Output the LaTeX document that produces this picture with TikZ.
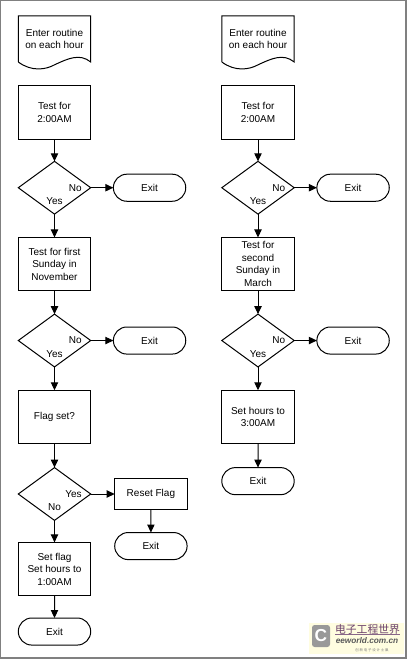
\documentclass[tikz,border=0pt]{standalone}
\usepackage{fontspec}
\setmainfont{Liberation Sans}
\newfontfamily\cjk{Noto Sans CJK SC}
\usepackage{tikz}
\usetikzlibrary{arrows.meta,positioning,shapes.geometric,shapes.misc}

\begin{document}
\begin{tikzpicture}[
  x=0.75pt, y=0.75pt,
  font=\fontsize{7.5pt}{9.4pt}\selectfont,
  line width=0.75pt,
  outer sep=0pt,
  stepbox/.style={draw, align=center, minimum width=54.3pt, minimum height=40pt, inner sep=0pt},
  docbox/.style={align=center, minimum width=54.3pt, minimum height=34.5pt, inner sep=0pt},
  decision/.style={draw, diamond, aspect=1.4, minimum width=54.3pt, minimum height=39.6pt, inner sep=0pt},
  exitbox/.style={draw, rounded rectangle, minimum width=54.3pt, minimum height=20.3pt, inner sep=0pt},
  answer/.style={inner sep=0pt},
  arrow/.style={-{Triangle[length=6pt,width=5.5pt]}},
  node distance=17.5pt
]
\useasboundingbox (0,0) rectangle (407,-659);
\draw[draw=gray, line width=1.2pt] (0.5,-0.5) rectangle (406,-658);

% left column
\node[docbox] (docL) at (54.5,-39) {Enter routine\\on each hour};
\node[stepbox,below=18pt of docL] (testL) {Test for\\2:00AM};
\node[decision,below=16.5pt of testL] (decL) {};
\node[exitbox,right=17pt of decL] (exitL) {Exit};
\node[stepbox,below=of decL] (firstL) {Test for first\\Sunday in\\November};
\node[decision,below=of firstL] (dectwoL) {};
\node[exitbox,right=17pt of dectwoL] (exittwoL) {Exit};
\node[stepbox,below=of dectwoL] (flagL) {Flag set?};
\node[decision,below=18pt of flagL] (decthreeL) {};
\node[stepbox,right=18pt of decthreeL,minimum height=22.8pt] (resetL) {Reset Flag};
\node[exitbox,below=17.5pt of resetL] (exitthreeL) {Exit};
\node[stepbox,below=16.5pt of decthreeL] (setL) {Set flag\\Set hours to\\1:00AM};
\node[exitbox,below=16.7pt of setL] (exitfourL) {Exit};

% right column
\node[docbox] (docR) at (258,-39) {Enter routine\\on each hour};
\node[stepbox,below=18pt of docR] (testR) {Test for\\2:00AM};
\node[decision,below=16.5pt of testR] (decR) {};
\node[exitbox,right=17pt of decR] (exitR) {Exit};
\node[stepbox,below=of decR] (secondR) {Test for\\second\\Sunday in\\March};
\node[decision,below=of secondR] (dectwoR) {};
\node[exitbox,right=17pt of dectwoR] (exittwoR) {Exit};
\node[stepbox,below=of dectwoR] (setR) {Set hours to\\3:00AM};
\node[exitbox,below=18pt of setR] (exitthreeR) {Exit};

% decision labels
\foreach \d in {decL,dectwoL,decR,dectwoR} {
  \node[answer,left=6.75pt of \d.east] (\d no) {No};
  \node[answer,above=7pt of \d.south] (\d yes) {Yes};
}
\node[answer,left=6.75pt of decthreeL.east] (decthreeLyes) {Yes};
\node[answer,above=7pt of decthreeL.south] (decthreeLno) {No};

% wavy bottoms of the document shapes
\foreach \d in {docL,docR} {
  \draw (\d.south west) -- (\d.north west) -- (\d.north east) -- (\d.south east)
    .. controls +(-11,9) and +(13,6) .. ([xshift=27.4pt,yshift=-2pt]\d.south west)
    .. controls +(-9,-5) and +(13.5,-10) .. (\d.south west);
}

\draw[arrow] (testL) -- (decL);
\draw[arrow] (decL) -- (exitL);
\draw[arrow] (decL) -- (firstL);
\draw[arrow] (firstL) -- (dectwoL);
\draw[arrow] (dectwoL) -- (exittwoL);
\draw[arrow] (dectwoL) -- (flagL);
\draw[arrow] (flagL) -- (decthreeL);
\draw[arrow] (decthreeL) -- (resetL);
\draw[arrow] (resetL) -- (exitthreeL);
\draw[arrow] (decthreeL) -- (setL);
\draw[arrow] (setL) -- (exitfourL);

\draw[arrow] (testR) -- (decR);
\draw[arrow] (decR) -- (exitR);
\draw[arrow] (decR) -- (secondR);
\draw[arrow] (secondR) -- (dectwoR);
\draw[arrow] (dectwoR) -- (exittwoR);
\draw[arrow] (dectwoR) -- (setR);
\draw[arrow] (setR) -- (exitthreeR);

% watermark
\fill[yellow!12] (309,-622.5) rectangle (404,-654);
\fill[gray!80, rounded corners=2pt] (312,-625) rectangle (330,-647);
\node[text=white, font=\fontsize{13pt}{13pt}\selectfont\bfseries] (markC) at (321,-636) {C};
\node[text=violet!45!black!75, inner sep=0pt, font=\cjk\fontsize{8.1pt}{9pt}\selectfont] (markcn) at (367.5,-629.5) {电子工程世界};
\draw[violet!45!black!60, line width=0.5pt] (markcn.south west) -- (markcn.south east);
\node[text=gray!70!black, inner sep=0pt, font=\fontsize{6.2pt}{7pt}\selectfont\bfseries\itshape] (markweb) at (367,-641) {eeworld.com.cn};
\node[text=gray, inner sep=0pt, font=\cjk\fontsize{2.6pt}{3pt}\selectfont] (markline) at (372,-650) {创 新 电 子 设 计 士 巢};
\end{tikzpicture}
\end{document}
